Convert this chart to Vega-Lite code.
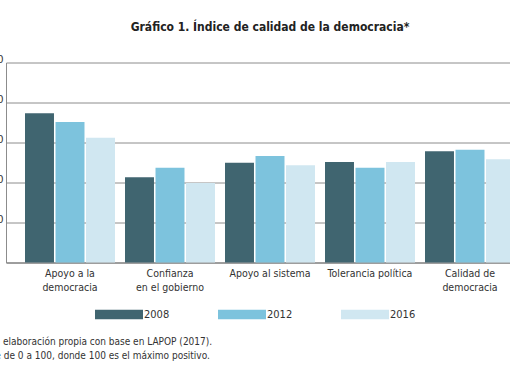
{
  "$schema": "https://vega.github.io/schema/vega-lite/v6.json",
  "width": 528,
  "height": 200,
  "autosize": {"type": "none"},
  "padding": {"left": 6, "top": 62.5, "right": -24, "bottom": 113.5},
  "background": "white",
  "title": {
    "text": "Gráfico 1. Índice de calidad de la democracia*",
    "font": "DejaVu Sans Condensed, Roboto, sans-serif",
    "fontSize": 12,
    "fontWeight": "bold",
    "color": "#222222",
    "anchor": "middle",
    "offset": 20
  },
  "data": {
    "values": [
      {"indicador": "Apoyo a la democracia", "anio": "2008", "valor": 74.6},
      {"indicador": "Apoyo a la democracia", "anio": "2012", "valor": 70.2},
      {"indicador": "Apoyo a la democracia", "anio": "2016", "valor": 62.4},
      {"indicador": "Confianza en el gobierno", "anio": "2008", "valor": 42.6},
      {"indicador": "Confianza en el gobierno", "anio": "2012", "valor": 47.4},
      {"indicador": "Confianza en el gobierno", "anio": "2016", "valor": 39.8},
      {"indicador": "Apoyo al sistema", "anio": "2008", "valor": 49.9},
      {"indicador": "Apoyo al sistema", "anio": "2012", "valor": 53.2},
      {"indicador": "Apoyo al sistema", "anio": "2016", "valor": 48.6},
      {"indicador": "Tolerancia política", "anio": "2008", "valor": 50.2},
      {"indicador": "Tolerancia política", "anio": "2012", "valor": 47.4},
      {"indicador": "Tolerancia política", "anio": "2016", "valor": 50.2},
      {"indicador": "Calidad de democracia", "anio": "2008", "valor": 55.6},
      {"indicador": "Calidad de democracia", "anio": "2012", "valor": 56.4},
      {"indicador": "Calidad de democracia", "anio": "2016", "valor": 51.6}
    ]
  },
  "mark": {"type": "bar"},
  "encoding": {
    "x": {
      "field": "indicador",
      "type": "nominal",
      "sort": null,
      "scale": {"paddingInner": 0.1, "paddingOuter": 0.19},
      "axis": {
        "labelAngle": 0,
        "labelFont": "DejaVu Sans Condensed, Roboto, sans-serif",
        "labelFontSize": 10.5,
        "labelColor": "#333333",
        "labelPadding": 6,
        "labelLineHeight": 14,
        "labelBaseline": "top",
        "ticks": false,
        "domainColor": "#777777",
        "labelExpr": "datum.value == 'Apoyo a la democracia' ? ['Apoyo a la', 'democracia'] : datum.value == 'Confianza en el gobierno' ? ['Confianza', 'en el gobierno'] : datum.value == 'Calidad de democracia' ? ['Calidad de', 'democracia'] : datum.label",
        "title": ["Fuente: elaboración propia con base en LAPOP (2017).", "* Índice de 0 a 100, donde 100 es el máximo positivo."],
        "titleFont": "DejaVu Sans Condensed, Roboto, sans-serif",
        "titleFontSize": 10,
        "titleFontWeight": "normal",
        "titleColor": "#333333",
        "titleLineHeight": 14,
        "titleAnchor": "start",
        "titleAlign": "left",
        "titleBaseline": "top",
        "titleX": -40,
        "titleY": 74
      }
    },
    "xOffset": {
      "field": "anio",
      "type": "nominal",
      "scale": {"paddingInner": 0.05, "paddingOuter": 0}
    },
    "y": {
      "field": "valor",
      "type": "quantitative",
      "scale": {"domain": [0, 100], "nice": false},
      "axis": {
        "values": [0, 20, 40, 60, 80, 100],
        "title": null,
        "ticks": false,
        "labelPadding": 3,
        "labelFont": "DejaVu Sans Condensed, Roboto, sans-serif",
        "labelFontSize": 11,
        "labelColor": "#333333",
        "labelBaseline": "alphabetic",
        "labelExpr": "datum.value == 0 ? '' : datum.label",
        "grid": true,
        "gridColor": "#8c8c8c",
        "gridWidth": 1,
        "domainColor": "#8c8c8c"
      }
    },
    "color": {
      "field": "anio",
      "type": "nominal",
      "scale": {"domain": ["2008", "2012", "2016"], "range": ["#406570", "#7dc3dd", "#d0e7f1"]},
      "legend": {
        "title": null,
        "orient": "none",
        "direction": "horizontal",
        "legendX": 89,
        "legendY": 228,
        "symbolType": "M-1,-0.2H1V0.2H-1Z",
        "symbolSize": 2304,
        "symbolStrokeWidth": 0,
        "symbolOpacity": 1,
        "labelOffset": 1,
        "columnPadding": 48,
        "labelFont": "DejaVu Sans Condensed, Roboto, sans-serif",
        "labelFontSize": 11,
        "labelColor": "#333333"
      }
    }
  },
  "config": {
    "view": {"stroke": null},
    "axis": {"grid": false}
  }
}
